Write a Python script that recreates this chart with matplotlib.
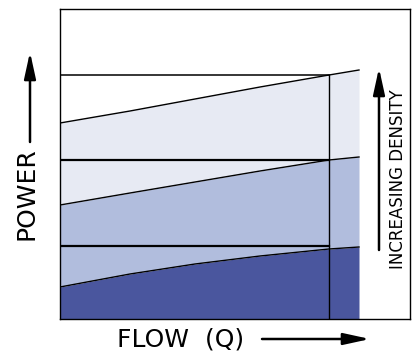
import numpy as np
import matplotlib.pyplot as plt

# flow positions (arbitrary units) and power curves for three densities
flow = [0, 70, 135, 200, 269, 299]
power_low = [32, 45, 55, 63, 70, 72]
power_mid = [114, 126, 137, 148, 159, 162]
power_high = [196, 208, 220, 232, 244, 249]

# operating point levels and the design flow
levels = [73, 159, 244]
design_flow = 269

colors = ['#4a569e', '#b1bddd', '#e7eaf3']

fig = plt.figure(figsize=(4.14, 3.51), dpi=100)
ax = fig.add_axes([60 / 414, 32 / 351, 350 / 414, 310 / 351])

ax.fill_between(flow, 0, power_low, color=colors[0], lw=0)
ax.fill_between(flow, power_low, power_mid, color=colors[1], lw=0)
ax.fill_between(flow, power_mid, power_high, color=colors[2], lw=0)

for curve in (power_low, power_mid, power_high):
    ax.plot(flow, curve, color='black', lw=1)

for lvl, lw in zip(levels, (1.6, 1.6, 1.1)):
    ax.plot([0, design_flow], [lvl, lvl], color='black', lw=lw)
ax.plot([design_flow, design_flow], [0, levels[-1]], color='black', lw=1)

ax.set_xlim(0, 350)
ax.set_ylim(0, 310)
ax.set_xticks([])
ax.set_yticks([])
for sp in ax.spines.values():
    sp.set_linewidth(1)

# labels and arrows
fig.text(27 / 414, 1 - 194 / 351, 'POWER', rotation=90, fontsize=18,
         ha='center', va='center')
fig.text(181 / 414, 1 - 347 / 351, 'FLOW  (Q)', fontsize=18,
         ha='center', va='baseline')
fig.text(398 / 414, 1 - 179 / 351, 'INCREASING DENSITY', rotation=90,
         fontsize=12, ha='center', va='center')

arrow = dict(arrowstyle='-|>,head_length=1.6,head_width=0.35', color='black',
             lw=1.8, shrinkA=0, shrinkB=0)
ax.annotate('', xy=(30 / 414, 1 - 52 / 351), xytext=(30 / 414, 1 - 142 / 351),
            xycoords='figure fraction', arrowprops=arrow)
ax.annotate('', xy=(370 / 414, 1 - 339 / 351), xytext=(262 / 414, 1 - 339 / 351),
            xycoords='figure fraction', arrowprops=arrow)
ax.annotate('', xy=(379 / 414, 1 - 68 / 351), xytext=(379 / 414, 1 - 250 / 351),
            xycoords='figure fraction', arrowprops=arrow)

fig.savefig('out.png', dpi=100)
